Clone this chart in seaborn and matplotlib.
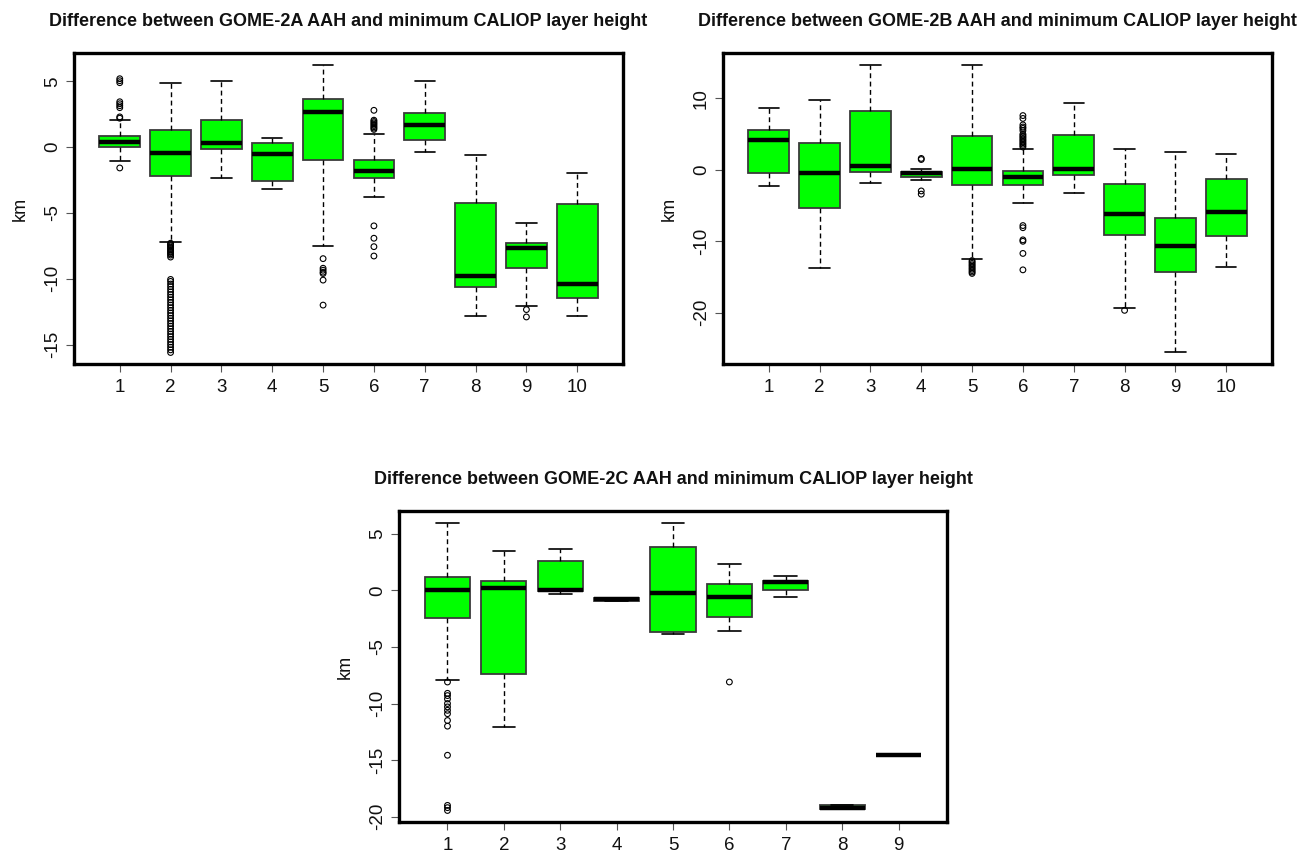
import numpy as np
import pandas as pd
import matplotlib
matplotlib.use("Agg")
import matplotlib.pyplot as plt
import seaborn as sns

# ---------------- data (km) ----------------
cats_A = ["1", "2", "3", "4", "5", "6", "7", "8", "9", "10"]
lo_A = [-1.02, -7.23, -2.34, -3.20, -7.48, -3.82, -0.38, -12.80, -12.04, -12.80]
q1_A = [0.05, -2.19, -0.13, -2.57, -0.94, -2.32, 0.51, -10.64, -9.16, -11.45]
med_A = [0.41, -0.46, 0.31, -0.51, 2.65, -1.78, 1.68, -9.80, -7.68, -10.43]
q3_A = [0.87, 1.27, 2.04, 0.31, 3.64, -0.97, 2.57, -4.25, -7.25, -4.30]
hi_A = [2.04, 4.86, 5.06, 0.69, 6.28, 1.02, 5.06, -0.59, -5.78, -1.98]
out_cat_A = (["1"] * 10 + ["2"] * 40 + ["5"] * 7 + ["6"] * 13 + ["9"] * 2)
out_val_A = [-1.58, 2.20, 2.30, 3.00, 3.15, 3.30, 3.45, 4.90, 5.05, 5.20,
             -7.30, -7.40, -7.50, -7.60, -7.70, -7.80, -7.90, -8.00, -8.10, -8.20, -8.35,
             -10.05, -10.20, -10.40, -10.60, -10.80, -11.00, -11.20, -11.40, -11.60, -11.80,
             -12.00, -12.20, -12.40, -12.60, -12.80, -13.00, -13.20, -13.40, -13.60, -13.80,
             -14.00, -14.20, -14.40, -14.60, -14.80, -15.00, -15.20, -15.40, -15.60,
             -8.47, -9.20, -9.35, -9.50, -9.60, -10.10, -12.00,
             1.35, 1.45, 1.55, 1.65, 1.75, 1.85, 1.95, 2.05, 2.80, -5.98, -6.92, -7.56, -8.27,
             -12.34, -12.90]

cats_B = ["1", "2", "3", "4", "5", "6", "7", "8", "9", "10"]
lo_B = [-2.25, -13.77, -1.87, -1.40, -12.50, -4.60, -3.18, -19.39, -25.57, -13.58]
q1_B = [-0.47, -5.29, -0.23, -0.94, -2.10, -2.10, -0.70, -9.09, -14.24, -9.32]
med_B = [4.17, -0.37, 0.61, -0.47, 0.14, -0.94, 0.14, -6.23, -10.73, -5.85]
q3_B = [5.53, 3.75, 8.24, -0.23, 4.78, -0.14, 4.92, -2.01, -6.74, -1.26]
hi_B = [8.71, 9.79, 14.75, 0.09, 14.75, 2.95, 9.37, 2.95, 2.48, 2.25]
out_cat_B = (["4"] * 4 + ["5"] * 10 + ["6"] * 22 + ["8"] * 1)
out_val_B = [1.45, 1.60, -2.95, -3.40,
             -12.70, -12.90, -13.10, -13.30, -13.50, -13.70, -13.90, -14.10, -14.30, -14.50,
             3.20, 3.40, 3.60, 3.80, 4.00, 4.20, 4.40, 4.60, 4.80, 5.00, 5.50, 5.80, 6.00, 6.30,
             7.20, 7.60, -7.80, -8.10, -9.80, -10.00, -11.70, -14.00,
             -19.67]

cats_C = ["1", "2", "3", "4", "5", "6", "7", "8", "9"]
lo_C = [-7.90, -12.06, -0.35, -0.94, -3.83, -3.60, -0.56, -19.35, -14.57]
q1_C = [-2.42, -7.43, -0.09, -0.94, -3.66, -2.33, 0.00, -19.35, -14.57]
med_C = [0.06, 0.21, 0.06, -0.80, -0.24, -0.62, 0.71, -19.20, -14.57]
q3_C = [1.21, 0.80, 2.63, -0.68, 3.81, 0.56, 0.80, -19.00, -14.57]
hi_C = [5.99, 3.51, 3.66, -0.68, 5.99, 2.36, 1.30, -19.00, -14.57]
out_cat_C = (["1"] * 14 + ["6"] * 1)
out_val_C = [-8.10, -9.10, -9.30, -9.60, -10.00, -10.30, -10.60, -10.90, -11.50, -12.00,
             -14.57, -19.00, -19.20, -19.45,
             -8.10]

yticks_A = [-15, -10, -5, 0, 5]
yticks_B = [-20, -10, 0, 10]
yticks_C = [-20, -15, -10, -5, 0, 5]

title_A = "Difference between GOME-2A AAH and minimum CALIOP layer height"
title_B = "Difference between GOME-2B AAH and minimum CALIOP layer height"
title_C = "Difference between GOME-2C AAH and minimum CALIOP layer height"
ylabel = "km"

# ---------------- style ----------------
sns.set_theme(style="ticks")
plt.rcParams['font.family'] = ['Liberation Sans', 'DejaVu Sans']
plt.rcParams['axes.edgecolor'] = 'black'

fig = plt.figure(figsize=(12.98, 8.52), dpi=100)
W, H = 1298.0, 852.0


def panel(rect, cats, lo, q1, med, q3, hi, ocat, oval, yticks, title):
    l, t, r, b = rect
    ax = fig.add_axes([l / W, 1 - b / H, (r - l) / W, (b - t) / H])
    rows = []
    for c, a, b1, m, d, e in zip(cats, lo, q1, med, q3, hi):
        for v in (a, b1, m, d, e):
            rows.append((c, v))
    df = pd.DataFrame(rows, columns=["cat", "km"])
    sns.boxplot(data=df, x="cat", y="km", order=cats, ax=ax,
                color="#00FF00", saturation=1, width=0.8, whis=(0, 100),
                showfliers=False, linecolor="black", linewidth=1.0,
                boxprops=dict(edgecolor="#3a3a3a", linewidth=1.3),
                medianprops=dict(color="black", linewidth=3.2),
                whiskerprops=dict(color="black", linewidth=1.0,
                                  linestyle=(0, (3.5, 2.5))),
                capprops=dict(color="black", linewidth=1.2),
                capwidths=0.4)
    pos = [cats.index(c) for c in ocat]
    sns.scatterplot(x=pos, y=oval, ax=ax, s=17, marker="o",
                    legend=False, zorder=4)
    coll = ax.collections[-1]
    coll.set_facecolor("none")
    coll.set_edgecolor("black")
    coll.set_linewidth(0.8)

    n = len(cats)
    ax.set_xlim(-0.5 - 0.04 * n, n - 0.5 + 0.04 * n)
    vals = list(lo) + list(hi) + list(oval)
    ymin, ymax = min(vals), max(vals)
    pad = 0.04 * (ymax - ymin)
    ax.set_ylim(ymin - pad, ymax + pad)
    ax.set_yticks(yticks)
    ax.set_yticklabels([str(v) for v in yticks])
    ax.set_xlabel("")
    ax.set_ylabel(ylabel, fontsize=13, color="#111111", labelpad=11)
    ax.tick_params(axis="both", direction="out", length=5.5, width=0.8,
                   color="#555555", labelsize=13.5, labelcolor="#111111")
    ax.tick_params(axis="y", labelrotation=90, pad=4)
    ax.tick_params(axis="x", pad=5)
    for lab in ax.get_yticklabels():
        lab.set_va("center")
    for sp in ax.spines.values():
        sp.set_visible(True)
        sp.set_linewidth(2.4)
        sp.set_color("black")
    ax.set_title(title, fontsize=13, fontweight="bold", pad=19.5,
                 color="#111111")
    return ax


panel((74, 53, 623, 364), cats_A, lo_A, q1_A, med_A, q3_A, hi_A,
      out_cat_A, out_val_A, yticks_A, title_A)
panel((723, 53, 1272, 364), cats_B, lo_B, q1_B, med_B, q3_B, hi_B,
      out_cat_B, out_val_B, yticks_B, title_B)
panel((399, 511, 947, 822), cats_C, lo_C, q1_C, med_C, q3_C, hi_C,
      out_cat_C, out_val_C, yticks_C, title_C)

fig.savefig("out.png", dpi=100, facecolor="white")
